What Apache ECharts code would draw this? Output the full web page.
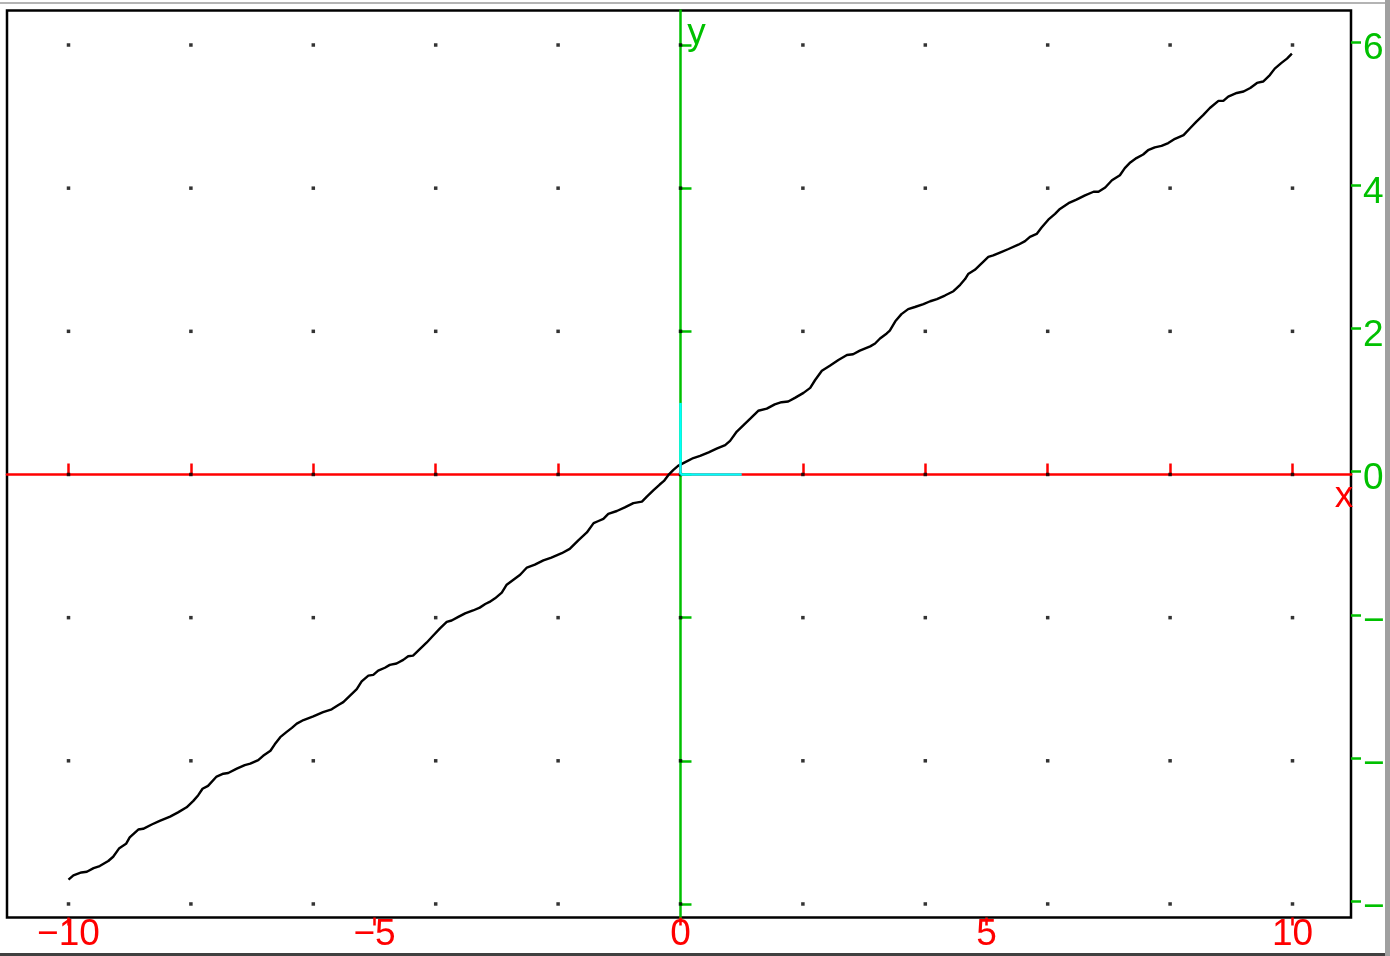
<!DOCTYPE html>
<html>
<head>
<meta charset="utf-8">
<script src="https://cdn.jsdelivr.net/npm/echarts@6/dist/echarts.min.js"></script>
<style>
  html, body { margin: 0; padding: 0; background: #fff; width: 1390px; height: 956px; overflow: hidden; }
  #chart { position: absolute; left: 0; top: 0; width: 1385px; height: 956px; }
  #topRule { position: absolute; left: 0; top: 2px; width: 1385px; height: 2px; background: #b4b4b4; }
  #sideBar { position: absolute; left: 1385px; top: 0; width: 5px; height: 956px; background: #a0a0a0; }
  #bottomRule { position: absolute; left: 0; top: 953px; width: 1385px; height: 3px; background: #404040; }
</style>
</head>
<body>
<div id="chart"></div>
<div id="topRule"></div>
<div id="sideBar"></div>
<div id="bottomRule"></div>
<script>
// Plotted curve, sampled along x
const curveX = [
  -10.00, -9.92, -9.79, -9.70, -9.59, -9.49, -9.35, -9.27, -9.17, -9.06,
  -9.00, -8.86, -8.78, -8.64, -8.51, -8.34, -8.21, -8.07, -7.96, -7.88,
  -7.81, -7.72, -7.58, -7.47, -7.39, -7.25, -7.12, -7.03, -6.90, -6.82,
  -6.70, -6.63, -6.54, -6.44, -6.35, -6.27, -6.16, -6.00, -5.84, -5.70,
  -5.59, -5.51, -5.40, -5.29, -5.21, -5.10, -5.02, -4.94, -4.83, -4.75,
  -4.64, -4.53, -4.45, -4.37, -4.26, -4.15, -4.04, -3.93, -3.82, -3.74,
  -3.63, -3.52, -3.39, -3.28, -3.19, -3.12,
  -3.03, -2.92, -2.84, -2.73, -2.62, -2.51, -2.38, -2.24, -2.11, -1.94,
  -1.81, -1.67, -1.53, -1.42, -1.34, -1.26, -1.18, -1.04, -0.91, -0.77,
  -0.63, -0.55, -0.44, -0.34, -0.27, -0.20, -0.12, -0.04, 0.07, 0.21,
  0.32, 0.46, 0.59, 0.73, 0.81, 0.92, 1.03, 1.14, 1.27, 1.41,
  1.54, 1.65, 1.76, 1.87, 2.01, 2.12, 2.20, 2.31, 2.44, 2.58,
  2.72, 2.82, 2.93, 3.10, 3.18, 3.26, 3.37,
  3.42, 3.51, 3.61, 3.72, 3.83, 3.97, 4.08, 4.19, 4.32, 4.46,
  4.57, 4.65, 4.70, 4.81, 4.92, 5.03, 5.11, 5.22, 5.36, 5.52,
  5.63, 5.71, 5.82, 5.90, 6.01, 6.12, 6.20, 6.34, 6.47, 6.61,
  6.75, 6.83, 6.94, 7.05, 7.18, 7.26, 7.35, 7.45, 7.56, 7.64,
  7.75, 7.86, 7.97, 8.08, 8.22, 8.33, 8.43, 8.54, 8.65, 8.79,
  8.87, 8.95, 9.09, 9.20, 9.31, 9.42, 9.52, 9.63, 9.71, 9.82,
  9.91, 9.99
];
const curveY = [
  -5.66, -5.60, -5.56, -5.55, -5.50, -5.47, -5.40, -5.34, -5.22, -5.16,
  -5.07, -4.96, -4.95, -4.89, -4.84, -4.78, -4.72, -4.65, -4.56, -4.48,
  -4.39, -4.35, -4.22, -4.18, -4.17, -4.11, -4.06, -4.04, -3.99, -3.93,
  -3.86, -3.77, -3.67, -3.60, -3.54, -3.48, -3.43, -3.38, -3.32, -3.28,
  -3.22, -3.18, -3.09, -3.00, -2.89, -2.81, -2.80, -2.74, -2.70, -2.66,
  -2.64, -2.59, -2.54, -2.53, -2.44, -2.35, -2.25, -2.15, -2.06, -2.04,
  -1.99, -1.94, -1.90, -1.86, -1.81, -1.78,
  -1.73, -1.65, -1.54, -1.47, -1.40, -1.30, -1.26, -1.20, -1.16, -1.10,
  -1.04, -0.92, -0.81, -0.68, -0.65, -0.62, -0.55, -0.51, -0.46, -0.40,
  -0.38, -0.31, -0.22, -0.14, -0.09, -0.01, 0.06, 0.12, 0.17, 0.23,
  0.26, 0.31, 0.36, 0.41, 0.47, 0.60, 0.69, 0.78, 0.89, 0.92,
  0.98, 1.01, 1.02, 1.07, 1.14, 1.21, 1.32, 1.45, 1.52, 1.60,
  1.67, 1.68, 1.73, 1.79, 1.83, 1.90, 1.97,
  2.01, 2.14, 2.24, 2.31, 2.34, 2.38, 2.42, 2.45, 2.50, 2.56,
  2.65, 2.73, 2.80, 2.86, 2.95, 3.04, 3.06, 3.10, 3.15, 3.21,
  3.26, 3.32, 3.36, 3.45, 3.56, 3.64, 3.71, 3.79, 3.84, 3.90,
  3.95, 3.95, 4.01, 4.11, 4.18, 4.28, 4.36, 4.42, 4.47, 4.53,
  4.57, 4.59, 4.63, 4.69, 4.74, 4.84, 4.93, 5.02, 5.12, 5.22,
  5.22, 5.28, 5.33, 5.35, 5.40, 5.47, 5.49, 5.58, 5.67, 5.75,
  5.81, 5.88
];

// Labelled ticks on the frame
const xTickLabels = [-10, -5, 0, 5, 10];
const yTickLabels = [-6, -4, -2, 0, 2, 4, 6];
// Dot lattice and axis ticks through the origin
const gridX = [-10, -8, -6, -4, -2, 0, 2, 4, 6, 8, 10];
const gridY = [-6, -4, -2, 0, 2, 4, 6];
// Unit vectors drawn from the origin
const unitVectors = [[0, 1], [1, 0]];

// Visible window
const X_MIN = -11.005, X_MAX = 10.956;
const Y_MIN = -6.189, Y_MAX = 6.482;
// The right-hand tick marks sit a little above their value, the labels a little below
const Y_TICK_NUDGE = -0.04;
const Y_LABEL_NUDGE = 0.058;

const RED = '#ff0000';
const GREEN = '#00c000';
const CYAN = '#00ffff';
const FONT = '"Liberation Sans", Arial, sans-serif';
const FS = 37;

const fmt = v => String(v).replace('-', '\u2212');

const dots = [];
gridX.forEach(x => gridY.forEach(y => dots.push([x, y])));
const curve = curveX.map((x, i) => [x, curveY[i]]);

const chart = echarts.init(document.getElementById('chart'), null, { renderer: 'canvas' });
chart.setOption({
  animation: false,
  backgroundColor: '#ffffff',
  grid: {
    left: 7, top: 10.5, right: 34, bottom: 38.5,
    show: true, borderColor: '#000', borderWidth: 2.5,
    backgroundColor: 'transparent',
    containLabel: false, outerBoundsMode: 'none'
  },
  xAxis: [
    {
      type: 'value', min: X_MIN, max: X_MAX, position: 'bottom',
      axisLine: { show: false, onZero: false },
      axisTick: { show: true, inside: false, length: 8, customValues: xTickLabels,
                  lineStyle: { color: RED, width: 2.5 } },
      axisLabel: { customValues: xTickLabels, color: RED, fontSize: FS, fontFamily: FONT,
                   margin: -1, formatter: fmt },
      splitLine: { show: false }
    },
    {
      type: 'value', min: X_MIN, max: X_MAX, position: 'bottom',
      axisLine: { show: true, onZero: true, onZeroAxisIndex: 0,
                  lineStyle: { color: RED, width: 2.5 } },
      axisTick: { show: true, inside: true, length: 11, customValues: gridX,
                  lineStyle: { color: RED, width: 2.5 } },
      axisLabel: { show: false },
      splitLine: { show: false }
    }
  ],
  yAxis: [
    {
      // data axis, also carries the right-hand tick marks
      type: 'value', min: Y_MIN, max: Y_MAX, position: 'right',
      axisLine: { show: false, onZero: false },
      axisTick: { show: false },
      axisLabel: { show: false },
      splitLine: { show: false }
    },
    {
      // vertical axis through x = 0
      type: 'value', min: Y_MIN, max: Y_MAX, position: 'left',
      axisLine: { show: true, onZero: true, onZeroAxisIndex: 0,
                  lineStyle: { color: GREEN, width: 2.5 } },
      axisTick: { show: true, inside: true, length: 11, customValues: gridY,
                  lineStyle: { color: GREEN, width: 2.5 } },
      axisLabel: { show: false },
      splitLine: { show: false }
    },
    {
      // right-hand tick marks
      type: 'value', min: Y_MIN + Y_TICK_NUDGE, max: Y_MAX + Y_TICK_NUDGE, position: 'right',
      axisLine: { show: false, onZero: false },
      axisTick: { show: true, inside: false, length: 10, customValues: yTickLabels,
                  lineStyle: { color: GREEN, width: 2.5 } },
      axisLabel: { show: false },
      splitLine: { show: false }
    },
    {
      // right-hand tick labels
      type: 'value', min: Y_MIN + Y_LABEL_NUDGE, max: Y_MAX + Y_LABEL_NUDGE, position: 'right',
      axisLine: { show: false, onZero: false },
      axisTick: { show: false },
      axisLabel: { customValues: yTickLabels, color: GREEN, fontSize: FS, fontFamily: FONT,
                   margin: 12, formatter: fmt },
      splitLine: { show: false }
    }
  ],
  graphic: [
    { type: 'text', x: 1344, y: 497, z: 100,
      style: { text: 'x', fill: RED, font: FS + 'px ' + FONT, textAlign: 'center', textVerticalAlign: 'middle' } },
    { type: 'text', x: 696.5, y: 34, z: 100,
      style: { text: 'y', fill: GREEN, font: FS + 'px ' + FONT, textAlign: 'center', textVerticalAlign: 'middle' } }
  ],
  series: [
    {
      type: 'scatter', xAxisIndex: 0, yAxisIndex: 0,
      data: dots, symbol: 'rect', symbolSize: 3.5, silent: true, z: 1,
      itemStyle: { color: '#000' },
      markLine: {
        silent: true, symbol: ['none', 'none'], label: { show: false },
        lineStyle: { color: CYAN, width: 2.5, type: 'solid' },
        emphasis: { disabled: true },
        data: unitVectors.map(v => [{ coord: [0, 0] }, { coord: v }])
      }
    },
    {
      type: 'line', xAxisIndex: 0, yAxisIndex: 0,
      data: curve, showSymbol: false, symbol: 'none', smooth: false, z: 3,
      lineStyle: { color: '#000', width: 2.4 }
    }
  ]
});
</script>
</body>
</html>
